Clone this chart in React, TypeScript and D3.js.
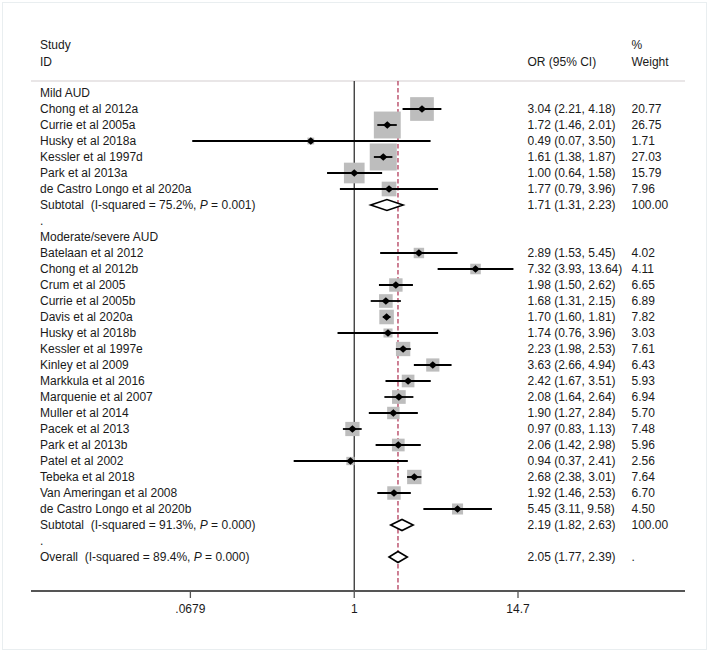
import React from 'react';
import * as d3 from 'd3';

// mild AUD
const mildStudies = ['Chong et al 2012a', 'Currie et al 2005a', 'Husky et al 2018a', 'Kessler et al 1997d', 'Park et al 2013a', 'de Castro Longo et al 2020a'];
const mildOR = [3.04, 1.72, 0.49, 1.61, 1.0, 1.77];
const mildLo = [2.21, 1.46, 0.07, 1.38, 0.64, 0.79];
const mildHi = [4.18, 2.01, 3.5, 1.87, 1.58, 3.96];
const mildW = [20.77, 26.75, 1.71, 27.03, 15.79, 7.96];
const mildSub = { or: 1.71, lo: 1.31, hi: 2.23, i2: '75.2%', p: '0.001' };

// moderate/severe AUD
const modStudies = ['Batelaan et al 2012', 'Chong et al 2012b', 'Crum et al 2005', 'Currie et al 2005b', 'Davis et al 2020a', 'Husky et al 2018b', 'Kessler et al 1997e', 'Kinley et al 2009', 'Markkula et al 2016', 'Marquenie et al 2007', 'Muller et al 2014', 'Pacek et al 2013', 'Park et al 2013b', 'Patel et al 2002', 'Tebeka et al 2018', 'Van Ameringan et al 2008', 'de Castro Longo et al 2020b'];
const modOR = [2.89, 7.32, 1.98, 1.68, 1.7, 1.74, 2.23, 3.63, 2.42, 2.08, 1.9, 0.97, 2.06, 0.94, 2.68, 1.92, 5.45];
const modLo = [1.53, 3.93, 1.5, 1.31, 1.6, 0.76, 1.98, 2.66, 1.67, 1.64, 1.27, 0.83, 1.42, 0.37, 2.38, 1.46, 3.11];
const modHi = [5.45, 13.64, 2.62, 2.15, 1.81, 3.96, 2.53, 4.94, 3.51, 2.64, 2.84, 1.13, 2.98, 2.41, 3.01, 2.53, 9.58];
const modW = [4.02, 4.11, 6.65, 6.89, 7.82, 3.03, 7.61, 6.43, 5.93, 6.94, 5.7, 7.48, 5.96, 2.56, 7.64, 6.7, 4.5];
const modSub = { or: 2.19, lo: 1.82, hi: 2.63, i2: '91.3%', p: '0.000' };

const overall = { or: 2.05, lo: 1.77, hi: 2.39, i2: '89.4%', p: '0.000' };
const tickValues = [0.0679, 1, 14.7];
const tickLabels = ['.0679', '1', '14.7'];

type Row =
  | { kind: 'label'; text: string }
  | { kind: 'study'; text: string; or: number; lo: number; hi: number; w: number }
  | { kind: 'sum'; text: string; or: number; lo: number; hi: number; i2: string; p: string; w: string };

const rows: Row[] = [];
rows.push({ kind: 'label', text: 'Mild AUD' });
mildStudies.forEach((s, i) => rows.push({ kind: 'study', text: s, or: mildOR[i], lo: mildLo[i], hi: mildHi[i], w: mildW[i] }));
rows.push({ kind: 'sum', text: 'Subtotal', ...mildSub, w: '100.00' });
rows.push({ kind: 'label', text: '.' });
rows.push({ kind: 'label', text: 'Moderate/severe AUD' });
modStudies.forEach((s, i) => rows.push({ kind: 'study', text: s, or: modOR[i], lo: modLo[i], hi: modHi[i], w: modW[i] }));
rows.push({ kind: 'sum', text: 'Subtotal', ...modSub, w: '100.00' });
rows.push({ kind: 'label', text: '.' });
rows.push({ kind: 'sum', text: 'Overall', ...overall, w: '.' });

const W = 709;
const H = 652;
const font = '"Liberation Sans", Arial, sans-serif';
const fs = 12;

export default function App() {
  const x = d3.scaleLog().domain([1 / 14.7, 14.7]).range([190.5, 518]);
  const y = d3.scaleLinear().domain([0, 29]).range([93, 557]);
  const top = 81;
  const axisY = 591;
  const lineL = 31;
  const lineR = 685;
  const labelX = 40;
  const orX = 527.5;
  const wX = 631.5;
  const box = (w: number) => 5.2 * Math.sqrt(w);
  const fmt = (v: number) => v.toFixed(2);

  return (
    <div style={{ position: 'absolute', left: 0, top: 0 }}>
      <svg width={W} height={H} style={{ display: 'block' }} fontFamily={font} fontSize={fs}>
        <rect x={0} y={0} width={W} height={H} fill="#fff" />
        <rect x={2.5} y={2.5} width={704} height={647} fill="none" stroke="#e9eef0" strokeWidth={1} />

        {/* header */}
        <text x={labelX} y={49} fill="#1a1a1a">Study</text>
        <text x={labelX} y={65.5} fill="#1a1a1a">ID</text>
        <text x={orX} y={65.5} fill="#1a1a1a">OR (95% CI)</text>
        <text x={wX} y={49} fill="#1a1a1a">%</text>
        <text x={wX} y={65.5} fill="#1a1a1a">Weight</text>
        <line x1={lineL} x2={lineR} y1={top} y2={top} stroke="#d4cdd0" strokeWidth={1.2} />

        {/* null line and overall effect */}
        <line x1={x(1)} x2={x(1)} y1={top} y2={axisY} stroke="#333" strokeWidth={1.3} />
        <line x1={x(overall.or)} x2={x(overall.or)} y1={top} y2={axisY} stroke="#b33d5c" strokeWidth={1.3} strokeDasharray="4.5,2.5" />

        {rows.map((r, i) => {
          const cy = y(i);
          const ty = cy + 4.3;
          if (r.kind === 'label') {
            return <text key={i} x={labelX} y={ty} fill="#1a1a1a">{r.text}</text>;
          }
          if (r.kind === 'study') {
            const s = box(r.w);
            const xo = x(r.or);
            return (
              <g key={i}>
                <text x={labelX} y={ty} fill="#1a1a1a">{r.text}</text>
                <rect x={xo - s / 2} y={cy - s / 2} width={s} height={s} fill="#bdbdbd" />
                <line x1={x(r.lo)} x2={x(r.hi)} y1={cy} y2={cy} stroke="#000" strokeWidth={1.8} />
                <path d={`M${xo - 4.2},${cy}L${xo},${cy - 3.8}L${xo + 4.2},${cy}L${xo},${cy + 3.8}Z`} fill="#000" />
                <text x={orX} y={ty} fill="#1a1a1a">{`${fmt(r.or)} (${fmt(r.lo)}, ${fmt(r.hi)})`}</text>
                <text x={wX} y={ty} fill="#1a1a1a">{r.w.toFixed(2)}</text>
              </g>
            );
          }
          const xl = x(r.lo);
          const xh = x(r.hi);
          const xo = x(r.or);
          return (
            <g key={i}>
              <text x={labelX} y={ty} fill="#1a1a1a" xmlSpace="preserve">
                {`${r.text}  (I-squared = ${r.i2}, `}
                <tspan fontStyle="italic">P</tspan>
                {` = ${r.p})`}
              </text>
              <path d={`M${xl},${cy}L${xo},${cy - 5.5}L${xh},${cy}L${xo},${cy + 5.5}Z`} fill="#fff" stroke="#000" strokeWidth={1.6} />
              <text x={orX} y={ty} fill="#1a1a1a">{`${fmt(r.or)} (${fmt(r.lo)}, ${fmt(r.hi)})`}</text>
              <text x={wX} y={ty} fill="#1a1a1a">{r.w}</text>
            </g>
          );
        })}

        {/* axis */}
        <line x1={lineL} x2={lineR} y1={axisY} y2={axisY} stroke="#555" strokeWidth={2} />
        {tickValues.map((t, i) => (
          <g key={t}>
            <line x1={x(t)} x2={x(t)} y1={axisY} y2={axisY + 7} stroke="#555" strokeWidth={1.3} />
            <text x={x(t)} y={axisY + 22} textAnchor="middle" fill="#1a1a1a">{tickLabels[i]}</text>
          </g>
        ))}
      </svg>
    </div>
  );
}
